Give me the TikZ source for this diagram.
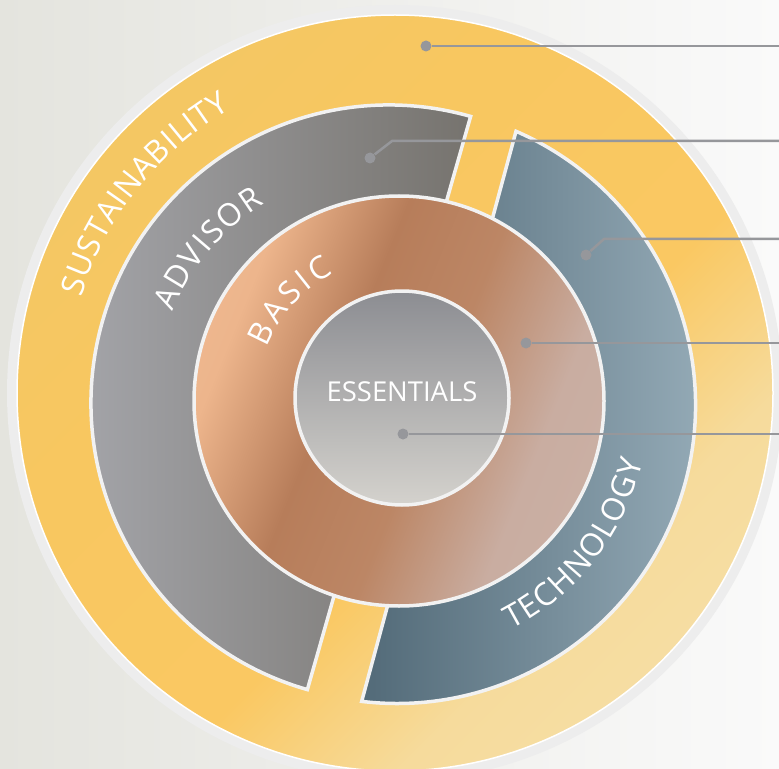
\documentclass[tikz,border=0pt]{standalone}
\usepackage{fontspec}
\setmainfont{Open Sans}
\usetikzlibrary{decorations.text}

\definecolor{bgL}{HTML}{E4E4DE}
\definecolor{bgR}{HTML}{FAFAFA}
\definecolor{halo}{HTML}{EDEDED}
\definecolor{rim}{HTML}{F2F2F2}
\definecolor{lead}{HTML}{96979B}
\definecolor{advL}{HTML}{A6A7AC}
\definecolor{advR}{HTML}{76736E}
\definecolor{tecL}{HTML}{526A78}
\definecolor{tecR}{HTML}{9AB0BC}
\definecolor{essT}{HTML}{8C8D92}
\definecolor{essB}{HTML}{D4D2CD}

\pgfdeclarehorizontalshading{yelshade}{100bp}{color(0bp)=(rgb,255:red,236;green,198;blue,106);
  color(38bp)=(rgb,255:red,248;green,199;blue,96); color(57bp)=(rgb,255:red,250;green,200;blue,98);
  color(68bp)=(rgb,255:red,246;green,219;blue,156); color(100bp)=(rgb,255:red,245;green,230;blue,184)}
\pgfdeclarehorizontalshading{copper}{100bp}{color(0bp)=(rgb,255:red,245;green,197;blue,158);
  color(28bp)=(rgb,255:red,237;green,181;blue,140); color(42bp)=(rgb,255:red,183;green,125;blue,90);
  color(54bp)=(rgb,255:red,188;green,134;blue,101); color(68bp)=(rgb,255:red,201;green,173;blue,161);
  color(100bp)=(rgb,255:red,205;green,182;blue,171)}

\newcommand\essfont{\fontsize{15.6}{17}\selectfont}

\tikzset{
  seg/.style={draw=rim, line width=0.7mm},
  leader/.style={draw=lead, line width=0.5mm},
  dot/.style={circle, fill=lead, inner sep=0pt, minimum size=2.2mm},
  ringtext/.style={decorate, decoration={text along path, text color=white, text align=fit to path}}
}

\begin{document}
\begin{tikzpicture}[x=0.2mm,y=0.2mm]
    \clip (0,0) rectangle (779,-769);
    \shade[left color=bgL, right color=bgR] (0,0) rectangle (779,-769);

    \coordinate (yc) at (395,-393);
    \coordinate (ac) at (389,-403);
    \coordinate (tc) at (397,-405);
    \coordinate (bc) at (399,-401);
    \coordinate (ec) at (402,-398);

    \fill[halo] (yc) circle[radius=388];
    \draw[white, line width=0.3mm, shading=yelshade, shading angle=-45] (yc) circle[radius=378];

    \draw[seg, left color=advL, right color=advR]
      ([shift={(74.1:298)}]ac) arc[start angle=74.1, end angle=254.1, radius=298] -- cycle;
    \draw[seg, left color=tecL, right color=tecR]
      ([shift={(66.5:298.5)}]tc) arc[start angle=66.5, end angle=-96.8, radius=298.5] -- cycle;

    \draw[seg, shading=copper, shading angle=-22] (bc) circle[radius=205];
    \draw[seg, top color=essT, bottom color=essB] (ec) circle[radius=107];

    \path[ringtext, decoration={text={|\fontsize{18}{20}\selectfont|SUSTAINABILITY}}]
      ([shift={(163:328)}]yc) arc[start angle=163, end angle=120, radius=328];
    \path[ringtext, decoration={text={|\fontsize{18}{20}\selectfont|ADVISOR}}]
      ([shift={(157:235)}]ac) arc[start angle=157, end angle=122, radius=235];
    \path[ringtext, decoration={text={|\fontsize{18}{20}\selectfont|BASIC}}]
      ([shift={(158:143)}]bc) arc[start angle=158, end angle=117, radius=143];
    \path[ringtext, decoration={text={|\fontsize{18}{20}\selectfont|TECHNOLOGY}}]
      ([shift={(-63:252)}]tc) arc[start angle=-63, end angle=-13, radius=252];
    \node[font=\essfont, text=white] (ess) at (402,-392) {ESSENTIALS};

    \node[dot] (pSus) at (426,-46) {};
    \coordinate (eSus) at (779,-46);
    \draw[leader] (pSus) -- (eSus);

    \node[dot] (pAdv) at (370,-158) {};
    \coordinate (kAdv) at (392,-141);
    \coordinate (eAdv) at (779,-141);
    \draw[leader] (pAdv) -- (kAdv) -- (eAdv);

    \node[dot] (pTec) at (586,-255) {};
    \coordinate (kTec) at (604,-239);
    \coordinate (eTec) at (779,-239);
    \draw[leader] (pTec) -- (kTec) -- (eTec);

    \node[dot] (pBas) at (526,-343) {};
    \coordinate (eBas) at (779,-343);
    \draw[leader] (pBas) -- (eBas);

    \node[dot] (pEss) at (403,-434) {};
    \coordinate (eEss) at (779,-434);
    \draw[leader] (pEss) -- (eEss);
\end{tikzpicture}
\end{document}
